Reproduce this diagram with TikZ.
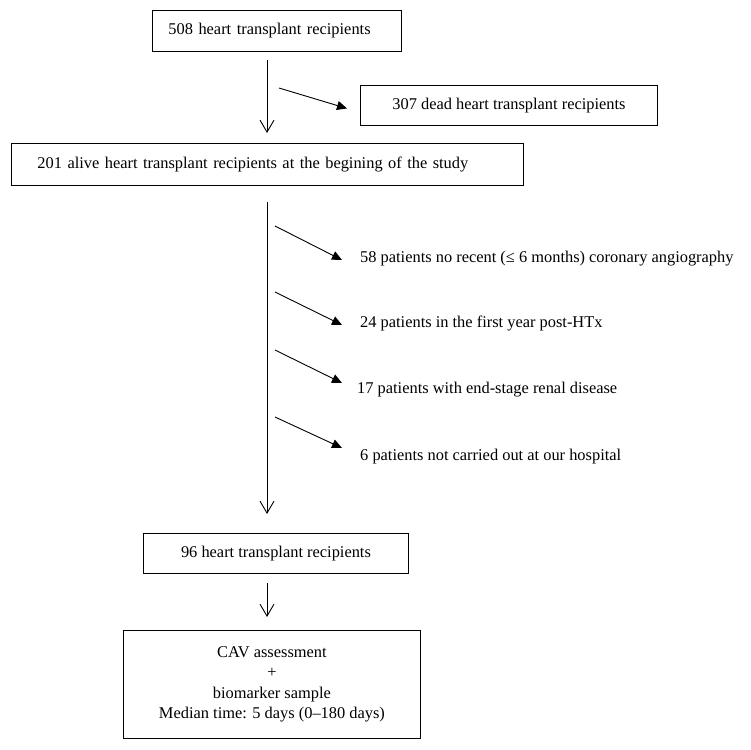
\documentclass[tikz,border=0pt]{standalone}
\usepackage{fontspec}
\setmainfont{Liberation Serif}
\usetikzlibrary{arrows.meta}

\tikzset{
  box/.style={draw, line width=0.9pt, font=\fontsize{16.4}{20.5}\selectfont, inner ysep=0pt},
  excl/.style={anchor=west, inner sep=0pt, font=\fontsize{16.4}{20.5}\selectfont},
  down/.style={line width=0.9pt, -{Straight Barb[length=12pt,width=14pt]}},
  side/.style={line width=0.9pt, -{Triangle[length=10pt,width=9pt]}}
}

\begin{document}
\begin{tikzpicture}[x=1pt,y=-1pt]
    \useasboundingbox (0,0) rectangle (751,749);
    % Boxes
    \node[box, anchor=north west, minimum height=41pt, text width=217pt, inner xsep=16pt, align=left] (total) at (152,10) {508 heart transplant recipients};
    \node[box, anchor=north west, minimum width=297pt, minimum height=40pt] (dead) at (360,85) {307 dead heart transplant recipients};
    \node[box, anchor=north west, minimum height=42pt, text width=460pt, inner xsep=26pt, align=left] (alive) at (11,143) {201 alive heart transplant recipients at the begining of the study};
    \node[box, anchor=north west, minimum width=265pt, minimum height=40pt] (final) at (143,533) {96 heart transplant recipients};
    \node[box, anchor=north west, minimum width=297pt, minimum height=108pt, align=center] (cav) at (123,630) {CAV assessment\\+\\biomarker sample\\Median time: 5 days (0--180 days)};
    % Main flow
    \coordinate (a1) at (267,60);
    \draw[down, shorten >=10pt] (a1) -- (a1 |- alive.north);
    \coordinate (a2) at (267,202);
    \draw[down, shorten >=19pt] (a2) -- (a2 |- final.north);
    \coordinate (a3) at (267,583);
    \draw[down, shorten >=13pt] (a3) -- (a3 |- cav.north);
    % Deaths
    \coordinate (d1) at (279,88);
    \draw[side] (d1) -- ([xshift=-13pt,yshift=-3pt]dead.west);
    % Exclusions
    \foreach \n/\ys/\ye/\xt/\yt/\txt in {
        1/226/260/360/259/{58 patients no recent (≤ 6 months) coronary angiography},
        2/292/325/360/323/{24 patients in the first year post-HTx},
        3/350/383/357/390/{17 patients with end-stage renal disease},
        4/417/448/360/457/{6 patients not carried out at our hospital}} {
      \coordinate (s\n) at (275,\ys);
      \coordinate (e\n) at (342,\ye);
      \node[excl] (ex\n) at (\xt,\yt) {\txt};
      \draw[side] (s\n) -- (e\n);
    }
\end{tikzpicture}
\end{document}
